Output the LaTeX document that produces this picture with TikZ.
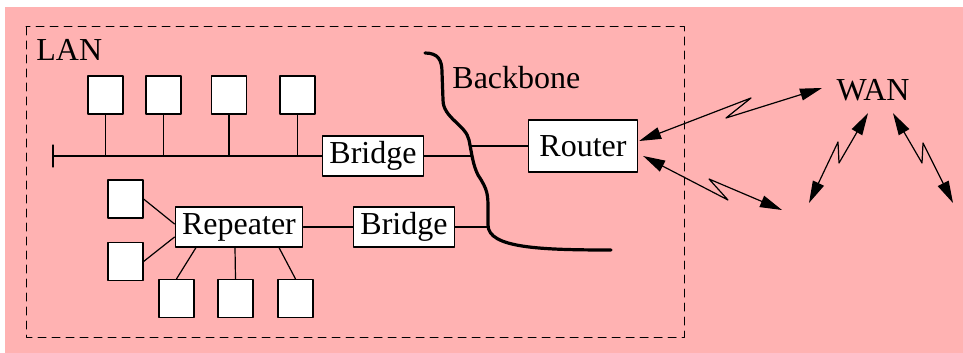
\documentclass[tikz,border=0pt]{standalone}
\usepackage{fontspec}
\setmainfont{Liberation Serif}
\usetikzlibrary{arrows.meta,calc}
\definecolor{netpink}{RGB}{255,178,178}
\tikzset{
	station/.style={draw,fill=white,line width=0.6pt,inner sep=0pt,minimum width=17.5pt,minimum height=19pt},
	device/.style={draw,fill=white,line width=0.6pt,inner xsep=3.5pt,inner ysep=0pt,minimum height=20pt},
	wire/.style={line width=0.6pt},
}
\begin{document}
\begin{tikzpicture}[line cap=round,line join=round,>={Triangle[length=11pt,width=6pt]},x=0.5pt,y=-0.5pt,font=\fontsize{16}{19}\selectfont]
		\useasboundingbox (0,0) rectangle (963,353);
		\fill [netpink] (5,7) rectangle (963,353);
		\draw [line width=0.5pt,dash pattern=on 4pt off 3pt] (26,27) rectangle (684,337);
		% labels
		\node [anchor=west,inner sep=0pt] (lan) at (36,50) {LAN};
		\node [anchor=west,inner sep=0pt] (bbtext) at (452,78) {Backbone};
		\node [inner sep=0pt] (wan) at (873,90) {WAN};
		% backbone
		\draw [line width=1.6pt] (425,53) .. controls (438,53) and (442,60) .. (442,72) -- (443,100) .. controls (443,118) and (466,125) .. (469,140) .. controls (472,155) and (473,165) .. (478,175) .. controls (488,190) and (488,195) .. (488,210) -- (488,225) .. controls (488,248) and (540,250) .. (611,250);
		\coordinate (bbA) at (472,156);
		\coordinate (bbR) at (470,146);
		\coordinate (bbB) at (488,227);
		% devices
		\node [device] (bridgeA) at (373,156) {Bridge};
		\node [device] (repeater) at (239,227) {Repeater};
		\node [device] (bridgeB) at (404,227) {Bridge};
		\node [device,inner xsep=5.5pt,minimum height=26pt] (router) at (583,146) {Router};
		% stations on the bus
		\node [station] (st1) at (105.5,95) {};
		\node [station] (st2) at (163.5,95) {};
		\node [station] (st3) at (229,95) {};
		\node [station] (st4) at (297.5,95) {};
		% stations on the repeater
		\node [station] (sa) at (125.5,199) {};
		\node [station] (sb) at (125.5,261.5) {};
		\node [station] (sc) at (176.5,298.5) {};
		\node [station] (sd) at (235.5,298.5) {};
		\node [station] (se) at (295.5,298.5) {};
		% bus
		\coordinate (busend) at (53,156);
		\draw [wire] (busend) -- (bridgeA);
		\draw [wire] ($(busend)+(0,-11)$) -- ($(busend)+(0,11)$);
		\foreach \s in {st1,st2,st3,st4}
			\draw [wire] (\s.south) -- (\s.south |- bridgeA.west);
		\draw [wire] (bridgeA) -- (bbA);
		\draw [wire] (bbR) -- (router);
		\draw [wire] (repeater) -- (bridgeB);
		\draw [wire] (bridgeB) -- (bbB);
		\draw [wire] (sa.east) -- ($(repeater.west)+(0,-3)$);
		\draw [wire] (sb.east) -- ($(repeater.west)+(0,10)$);
		\draw [wire] (sc.north) -- ($(repeater.south)+(-43,0)$);
		\draw [wire] (sd.north) -- ($(repeater.south)+(-4,0)$);
		\draw [wire] (se.north) -- ($(repeater.south)+(40,0)$);
		% wan links
		\coordinate (wanA) at (822,88);
		\coordinate (farA) at (782,210);
		\coordinate (farB) at (809,203);
		\coordinate (farC) at (953,203);
		\draw [wire,<->] ($(router.east)+(1,-5)$) -- (751,98) -- (726,118) -- (wanA);
		\draw [wire,<->] ($(router.east)+(5,10)$) -- (728,200) -- (709,179) -- (farA);
		\draw [wire,<->] ($(wan.south)+(-5,12)$) -- (839,163) -- (838,142) -- (farB);
		\draw [wire,<->] ($(wan.south)+(20,12)$) -- (922,163) -- (923,143) -- (farC);
	\end{tikzpicture}
\end{document}
